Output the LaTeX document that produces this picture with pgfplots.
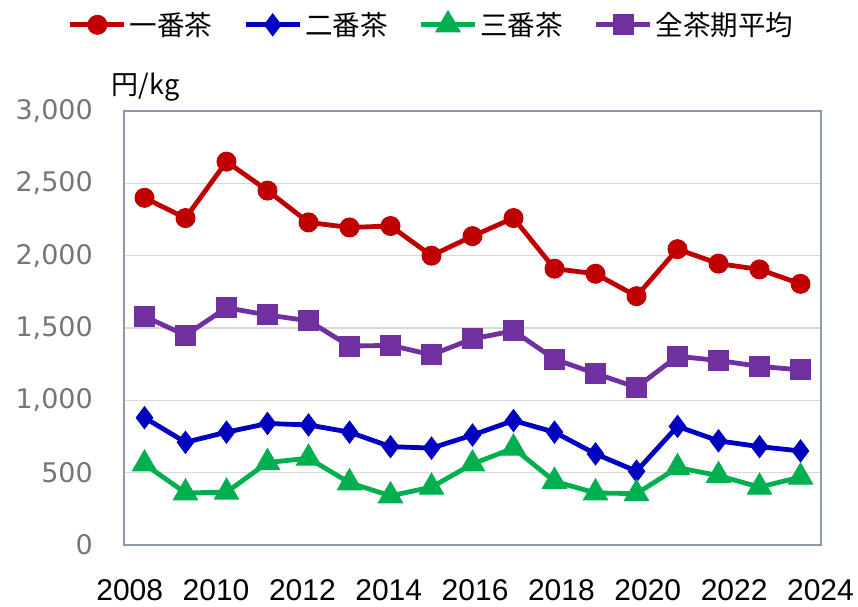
\documentclass[border=0pt]{standalone}
\usepackage{fontspec}
\usepackage{pgfplots}
\pgfplotsset{compat=1.18}
\newfontfamily\cjk{Noto Sans CJK JP}
\newfontfamily\yfont{DejaVu Sans}
\newfontfamily\xfont{Liberation Sans}
\definecolor{cRed}{HTML}{C00000}
\definecolor{cBlue}{HTML}{0000C0}
\definecolor{cGreen}{HTML}{00B050}
\definecolor{cPurple}{HTML}{7030A0}
\definecolor{cAxis}{RGB}{140,155,170}
\definecolor{cGrid}{RGB}{217,217,217}
\definecolor{cTick}{RGB}{118,118,118}
\begin{document}
\begin{tikzpicture}
\useasboundingbox (0,0) rectangle (858pt,606pt);
\begin{axis}[
  at={(124pt,61pt)}, anchor=south west,
  scale only axis, width=697pt, height=434pt,
  xmin=-0.5, xmax=16.5, ymin=0, ymax=3000,
  ytick={0,500,1000,1500,2000,2500,3000},
  xtick={-0.361,1.745,3.851,5.957,8.063,10.169,12.275,14.381,16.487},
  xticklabels={2008,2010,2012,2014,2016,2018,2020,2022,2024},
  major tick length=0pt,
  axis line style={cAxis, line width=1.2pt},
  ymajorgrids, grid style={cGrid, line width=1.3pt},
  /pgf/number format/assume math mode=true,
  /pgf/number format/1000 sep={,},
  yticklabel style={font=\yfont\fontsize{27}{27}\selectfont, text=cTick, anchor=east, inner sep=0pt, xshift=-31pt},
  xticklabel style={font=\xfont\fontsize{30}{30}\selectfont, text=black, anchor=north, inner sep=0pt, yshift=-34pt},
  clip=false,
  legend columns=4,
  legend style={at={(axis description cs:-0.0803,1.2005)}, anchor=west, draw=none, fill=none,
    inner sep=0pt, outer sep=0pt, nodes={inner sep=0pt},
    font=\cjk\fontsize{27.5}{30}\selectfont,
    /tikz/every odd column/.append style={column sep=3pt},
    /tikz/every even column/.append style={column sep=31pt}},
  legend image code/.code={\draw[mark repeat=2,mark phase=2,#1] plot coordinates {(0pt,0pt) (27pt,0pt) (54pt,0pt)};},
]
\addplot[cRed, line width=4.8pt, mark=*, mark size=9.5pt, mark options={solid, line width=1pt}] coordinates {
(0,2400)(1,2260)(2,2650)(3,2450)(4,2230)(5,2195)(6,2205)(7,2000)(8,2135)(9,2260)(10,1910)(11,1875)(12,1720)(13,2045)(14,1945)(15,1905)(16,1805)};
\addlegendentry{一番茶}
\addplot[cBlue, line width=4.8pt, mark=diamond*, mark size=11pt, mark options={solid, line width=1pt}] coordinates {
(0,880)(1,710)(2,780)(3,840)(4,830)(5,780)(6,680)(7,670)(8,760)(9,860)(10,780)(11,630)(12,510)(13,820)(14,720)(15,680)(16,650)};
\addlegendentry{二番茶}
\addplot[cGreen, line width=4.8pt, mark=triangle*, mark size=14pt, mark options={solid, line width=1pt}] coordinates {
(0,560)(1,360)(2,365)(3,570)(4,600)(5,430)(6,340)(7,400)(8,560)(9,670)(10,440)(11,360)(12,355)(13,535)(14,480)(15,400)(16,470)};
\addlegendentry{三番茶}
\addplot[cPurple, line width=4.8pt, mark=square*, mark size=10pt, mark options={solid, line width=1pt}] coordinates {
(0,1580)(1,1450)(2,1640)(3,1590)(4,1550)(5,1375)(6,1380)(7,1315)(8,1425)(9,1480)(10,1285)(11,1185)(12,1090)(13,1305)(14,1275)(15,1235)(16,1210)};
\addlegendentry{全茶期平均}
\node[anchor=base west, inner sep=0pt, font=\cjk\fontsize{27}{27}\selectfont] at (axis description cs:-0.0176,1.0369) {円/kg};
\end{axis}
\end{tikzpicture}
\end{document}
